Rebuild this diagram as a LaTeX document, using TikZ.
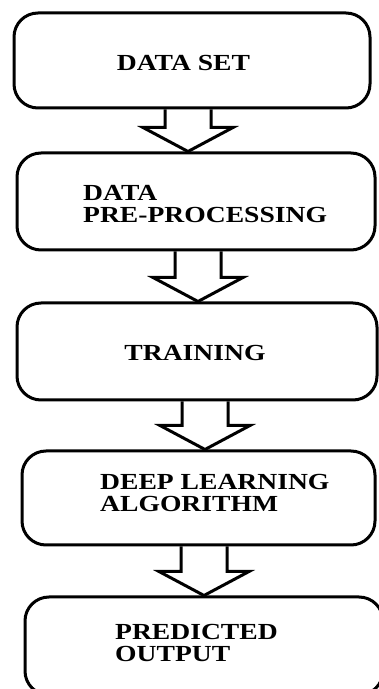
\documentclass[tikz,border=0pt]{standalone}
\usepackage{fontspec}
\setmainfont{Liberation Serif}[FakeStretch=1.2]
\usetikzlibrary{calc}

\tikzset{
  stage/.style={draw,line width=3pt,rounded corners=24pt,inner sep=0pt},
  stagetext/.style={font=\bfseries\fontsize{23}{22}\selectfont,align=left,inner sep=0pt},
  bigarrow/.style={draw,line width=3pt,line join=miter}
}
% hollow block arrow from the bottom of #1 to the top of #2, centred at x=#3
\newcommand{\blockarrow}[3]{%
  \path[bigarrow] let \p1=(#1.south), \p2=(#2.north) in
    (#3pt-23pt,\y1) -- (#3pt-23pt,\y2+24pt) -- (#3pt-45pt,\y2+24pt) -- (#3pt,\y2)
    -- (#3pt+45pt,\y2+24pt) -- (#3pt+23pt,\y2+24pt) -- (#3pt+23pt,\y1);}

\begin{document}
\begin{tikzpicture}[x=1pt,y=1pt]
  \clip (0,0) rectangle (379,689);

  \node[stage,minimum width=356pt,minimum height=95pt] (ds) at (192,628.5) {};
  \node[stage,minimum width=358pt,minimum height=97pt] (pre) at (196,487.5) {};
  \node[stage,minimum width=360pt,minimum height=97pt] (train) at (197,337.5) {};
  \node[stage,minimum width=353pt,minimum height=94pt] (dl) at (198.5,191) {};
  \node[stage,minimum width=358pt,minimum height=98pt] (out) at (204,43) {};

  \node[stagetext] (tds) at (183.5,625.5) {DATA SET};
  \node[stagetext,anchor=west] (tpre) at (83,485) {DATA\\PRE-PROCESSING};
  \node[stagetext] (ttrain) at (195,336) {TRAINING};
  \node[stagetext,anchor=west] (tdl) at (100,196) {DEEP LEARNING\\ALGORITHM};
  \node[stagetext,anchor=west] (tout) at (115,46.5) {PREDICTED\\OUTPUT};

  \blockarrow{ds}{pre}{188}
  \blockarrow{pre}{train}{198}
  \blockarrow{train}{dl}{205}
  \blockarrow{dl}{out}{204}
\end{tikzpicture}
\end{document}
